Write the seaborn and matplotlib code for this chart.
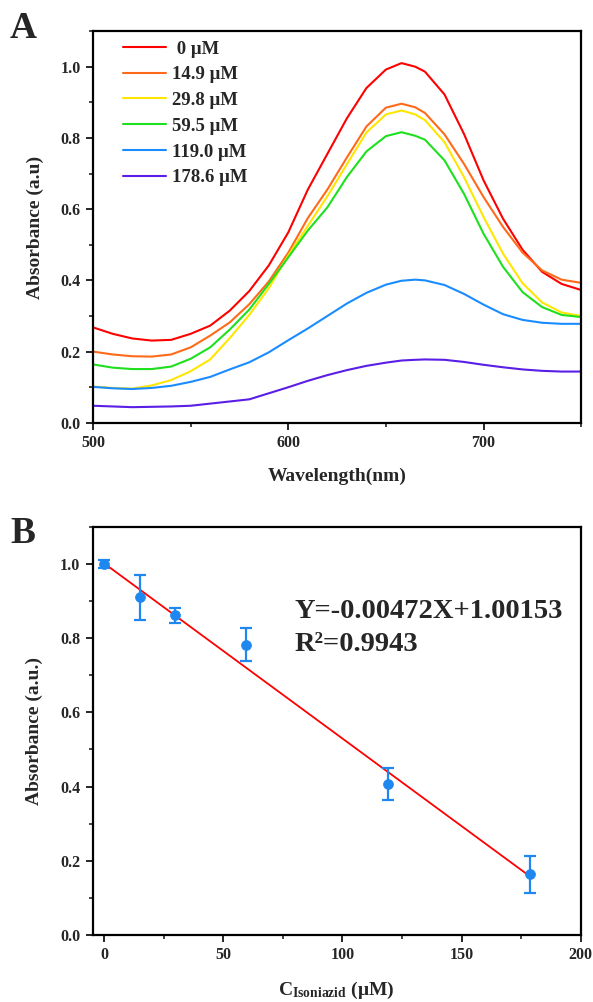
import numpy as np
import pandas as pd
import matplotlib.pyplot as plt
import seaborn as sns
from matplotlib.ticker import MultipleLocator

# %%
# Panel A: UV-vis spectra
wavelength = [500, 510, 520, 530, 540, 550, 560, 570, 580, 590, 600, 610, 620, 630, 640, 650, 658,
              665, 670, 680, 690, 700, 710, 720, 730, 740, 750]
abs_0 = [0.268, 0.250, 0.237, 0.231, 0.233, 0.250, 0.273, 0.315, 0.370, 0.442, 0.535, 0.655, 0.755, 0.855, 0.940, 0.992, 1.010,
         1.000, 0.986, 0.922, 0.811, 0.681, 0.573, 0.486, 0.424, 0.390, 0.373]
abs_14 = [0.200, 0.192, 0.187, 0.186, 0.192, 0.212, 0.245, 0.282, 0.333, 0.397, 0.478, 0.575, 0.655, 0.745, 0.832, 0.885, 0.896,
          0.886, 0.870, 0.810, 0.727, 0.634, 0.550, 0.478, 0.428, 0.402, 0.393]
abs_29 = [0.102, 0.098, 0.096, 0.105, 0.120, 0.145, 0.178, 0.238, 0.303, 0.378, 0.470, 0.553, 0.636, 0.726, 0.815, 0.866, 0.877,
          0.866, 0.850, 0.788, 0.690, 0.578, 0.475, 0.392, 0.338, 0.310, 0.300]
abs_59 = [0.164, 0.155, 0.151, 0.151, 0.158, 0.180, 0.212, 0.262, 0.318, 0.390, 0.465, 0.540, 0.605, 0.690, 0.762, 0.805, 0.816,
          0.806, 0.795, 0.737, 0.643, 0.531, 0.438, 0.367, 0.325, 0.303, 0.297]
abs_119 = [0.101, 0.097, 0.095, 0.098, 0.104, 0.115, 0.129, 0.150, 0.170, 0.198, 0.232, 0.265, 0.300, 0.335, 0.365, 0.388, 0.399,
           0.402, 0.400, 0.387, 0.362, 0.332, 0.305, 0.289, 0.281, 0.278, 0.278]
abs_178 = [0.048, 0.046, 0.044, 0.045, 0.046, 0.048, 0.054, 0.060, 0.066, 0.083, 0.100, 0.118, 0.134, 0.148, 0.160, 0.169, 0.175,
           0.177, 0.178, 0.177, 0.171, 0.163, 0.156, 0.150, 0.146, 0.144, 0.144]
conc_labels = [' 0 μM', '14.9 μM', '29.8 μM', '59.5 μM', '119.0 μM', '178.6 μM']
line_colors = ['#FF0000', '#FF6A1A', '#FFE600', '#1EE01E', '#1A8CFF', '#5A1EE6']

# Panel B: calibration points
conc = [0, 14.9, 29.8, 59.5, 119.0, 178.6]
absorb = [1.000, 0.910, 0.862, 0.783, 0.407, 0.163]
absorb_err = [0.010, 0.062, 0.020, 0.045, 0.042, 0.050]
fit_x = [0, 178.6]
fit_y = [1.0015, 0.1585]

# %%
sns.set_style('ticks')
plt.rcParams['font.family'] = ['Liberation Serif', 'DejaVu Serif']
plt.rcParams['font.weight'] = 'bold'
plt.rcParams['axes.labelweight'] = 'bold'
plt.rcParams['mathtext.fontset'] = 'custom'
plt.rcParams['mathtext.rm'] = 'Liberation Serif:bold'
plt.rcParams['mathtext.bf'] = 'Liberation Serif:bold'
plt.rcParams['mathtext.it'] = 'Liberation Serif:bold'

fig = plt.figure(figsize=(5.93, 10.02), dpi=100)
ax1 = fig.add_axes([0.157, 0.578, 0.823, 0.391])
ax2 = fig.add_axes([0.156, 0.067, 0.823, 0.407])

spectra = pd.DataFrame({
    'wavelength': wavelength * 6,
    'abs': abs_0 + abs_14 + abs_29 + abs_59 + abs_119 + abs_178,
    'conc': sum([[c] * len(wavelength) for c in conc_labels], []),
})
sns.lineplot(data=spectra, x='wavelength', y='abs', hue='conc', hue_order=conc_labels,
             palette=line_colors, linewidth=1.5, ax=ax1)
ax1.set_xlim(500, 750)
ax1.set_ylim(0, 1.1)
ax1.xaxis.set_major_locator(MultipleLocator(100))
ax1.xaxis.set_minor_locator(MultipleLocator(50))
ax1.yaxis.set_major_locator(MultipleLocator(0.2))
ax1.yaxis.set_minor_locator(MultipleLocator(0.1))
ax1.set_xlabel('Wavelength(nm)', fontsize=14, labelpad=12)
ax1.set_ylabel('Absorbance (a.u)', fontsize=14, labelpad=12)
ax1.legend(frameon=False, loc='upper left', handlelength=2.3, handletextpad=0.3,
           labelspacing=0.46, borderaxespad=0, borderpad=0.5, bbox_to_anchor=(0.042, 1.0),
           prop={'weight': 'bold', 'size': 13.5})

ax2.plot(fit_x, fit_y, color='#FF0000', linewidth=1.3, zorder=2)
ax2.errorbar(conc, absorb, yerr=absorb_err, fmt='none', ecolor='#1E88F0',
             elinewidth=1.6, capsize=4, capthick=1.6, zorder=3)
sns.scatterplot(x=conc, y=absorb, color='#1E88F0', s=50, edgecolor='#1E88F0', ax=ax2, zorder=4)
ax2.set_xlim(-5, 200)
ax2.set_ylim(0, 1.1)
ax2.xaxis.set_major_locator(MultipleLocator(50))
ax2.xaxis.set_minor_locator(MultipleLocator(25))
ax2.yaxis.set_major_locator(MultipleLocator(0.2))
ax2.yaxis.set_minor_locator(MultipleLocator(0.1))
ax2.set_xlabel(r'C$_{\mathrm{Isoniazid}}$ (μM)', fontsize=14, labelpad=12)
ax2.set_ylabel('Absorbance (a.u.)', fontsize=14, labelpad=12)
ax2.text(80, 0.873, 'Y=-0.00472X+1.00153', fontsize=20.5, fontweight='bold', va='center')
ax2.text(80, 0.784, 'R²=0.9943', fontsize=20.5, fontweight='bold', va='center')

for ax in (ax1, ax2):
    for s in ax.spines.values():
        s.set_linewidth(1.6)
        s.set_color('black')
    ax.tick_params(which='major', direction='out', length=5, width=1.4, labelsize=11.5, pad=4)
    ax.tick_params(which='minor', direction='out', length=3, width=1.2)
    for lab in ax.get_xticklabels() + ax.get_yticklabels():
        lab.set_fontweight('bold')

fig.text(0.017, 0.962, 'A', fontsize=27, fontweight='bold')
fig.text(0.017, 0.458, 'B', fontsize=27, fontweight='bold')

fig.savefig('out.png', dpi=100)
